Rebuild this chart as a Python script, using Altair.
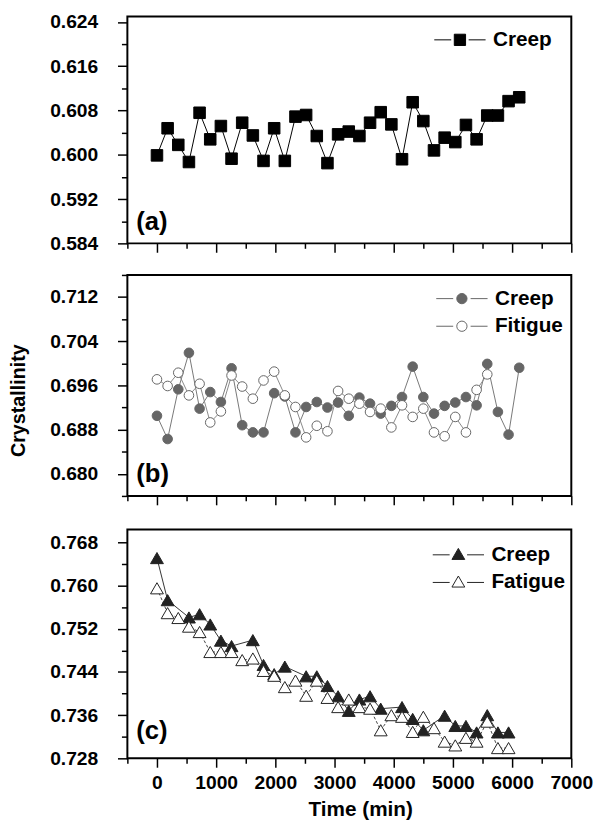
import altair as alt
import pandas as pd

FONT = "Liberation Sans"

# ---------------- data ----------------
a_time = [0, 180, 360, 540, 720, 900, 1080, 1260, 1440, 1620, 1800, 1980, 2160, 2340,
          2520, 2700, 2880, 3060, 3240, 3420, 3600, 3780, 3960, 4140, 4320, 4500, 4680,
          4860, 5040, 5220, 5400, 5580, 5760, 5940, 6120]
a_creep = [0.5999, 0.6048, 0.6018, 0.5987, 0.6076, 0.6028, 0.6052, 0.5993, 0.6058, 0.6035,
           0.5989, 0.6048, 0.5989, 0.6069, 0.6072, 0.6034, 0.5985, 0.6037, 0.6042, 0.6034,
           0.6058, 0.6077, 0.6055, 0.5992, 0.6095, 0.6061, 0.6008, 0.6031, 0.6023, 0.6054,
           0.6028, 0.6071, 0.6071, 0.6097, 0.6104]

b_creep_time = [0, 180, 360, 540, 720, 900, 1080, 1260, 1440, 1620, 1800, 1980, 2160, 2340,
                2520, 2700, 2880, 3060, 3240, 3420, 3600, 3780, 3960, 4140, 4320, 4500, 4680,
                4860, 5040, 5220, 5400, 5580, 5760, 5940, 6120]
b_creep = [0.6905, 0.6863, 0.6953, 0.7019, 0.6918, 0.6948, 0.6930, 0.6991, 0.6888, 0.6875,
           0.6875, 0.6946, 0.6940, 0.6875, 0.6921, 0.6930, 0.6920, 0.6929, 0.6905, 0.6938,
           0.6927, 0.6909, 0.6923, 0.6939, 0.6994, 0.6939, 0.6909, 0.6923, 0.6929, 0.6939,
           0.6924, 0.6999, 0.6912, 0.6871, 0.6992]
b_fatigue_time = [0, 180, 360, 540, 720, 900, 1080, 1260, 1440, 1620, 1800, 1980, 2160, 2340,
                  2520, 2700, 2880, 3060, 3240, 3420, 3600, 3780, 3960, 4140, 4320, 4500, 4680,
                  4860, 5040, 5220, 5400, 5580]
b_fatigue = [0.6971, 0.6959, 0.6983, 0.6942, 0.6963, 0.6893, 0.6913, 0.6978, 0.6958, 0.6936,
             0.6969, 0.6985, 0.6942, 0.6921, 0.6866, 0.6887, 0.6877, 0.6950, 0.6936, 0.6927,
             0.6912, 0.6918, 0.6884, 0.6924, 0.6903, 0.6918, 0.6875, 0.6868, 0.6903, 0.6875,
             0.6952, 0.6980]

c_creep_time = [0, 180, 540, 720, 900, 1080, 1260, 1620, 1800, 1980, 2160, 2520, 2700, 2880,
                3060, 3240, 3420, 3600, 3780, 4140, 4320, 4500, 4860, 5040, 5220, 5400, 5580,
                5760, 5940]
c_creep = [0.7651, 0.7573, 0.7541, 0.7547, 0.7528, 0.7498, 0.7488, 0.7499, 0.7453, 0.7436,
           0.7450, 0.7432, 0.7432, 0.7414, 0.7395, 0.7368, 0.7389, 0.7395, 0.7372, 0.7375,
           0.7353, 0.7332, 0.7359, 0.7340, 0.7340, 0.7328, 0.7360, 0.7328, 0.7328]
c_fatigue_time = [0, 180, 360, 540, 720, 900, 1080, 1260, 1440, 1620, 1800, 1980, 2160, 2340,
                  2520, 2700, 2880, 3060, 3240, 3420, 3600, 3780, 3960, 4140, 4320, 4500, 4680,
                  4860, 5040, 5220, 5400, 5580, 5760, 5940]
c_fatigue = [0.7595, 0.7549, 0.7540, 0.7524, 0.7514, 0.7477, 0.7477, 0.7477, 0.7462, 0.7465,
             0.7442, 0.7433, 0.7412, 0.7424, 0.7396, 0.7424, 0.7392, 0.7375, 0.7389, 0.7375,
             0.7372, 0.7332, 0.7360, 0.7357, 0.7329, 0.7357, 0.7336, 0.7311, 0.7304, 0.7318,
             0.7311, 0.7348, 0.7299, 0.7299]

x_major = [0, 1000, 2000, 3000, 4000, 5000, 6000, 7000]
x_minor = [-500, 500, 1500, 2500, 3500, 4500, 5500, 6500]
a_y_major = [0.584, 0.592, 0.600, 0.608, 0.616, 0.624]
a_y_minor = [0.588, 0.596, 0.604, 0.612, 0.620]
b_y_major = [0.680, 0.688, 0.696, 0.704, 0.712]
b_y_minor = [0.676, 0.684, 0.692, 0.700, 0.708, 0.716]
c_y_major = [0.728, 0.736, 0.744, 0.752, 0.760, 0.768]
c_y_minor = [0.732, 0.740, 0.748, 0.756, 0.764]

# legend glyphs: line - marker - line
SQUARE_SYM = "M-1,0L-0.34,0M0.34,0L1,0M-0.22,-0.22L0.22,-0.22L0.22,0.22L-0.22,0.22Z"
CIRCLE_SYM = "M-1,0L-0.34,0M0.34,0L1,0M0.2,0A0.2,0.2,0,1,1,-0.2,0A0.2,0.2,0,1,1,0.2,0Z"
TRI_SYM = "M-1,0L-0.34,0M0.34,0L1,0M0,-0.25L0.25,0.18L-0.25,0.18Z"

xscale = alt.Scale(domain=[-500, 7000], nice=False, zero=False)


def frame(field, series):
    rows = []
    for name, times, vals in series:
        rows.append(pd.DataFrame({field: name, "time": times, "value": vals}))
    return pd.concat(rows, ignore_index=True)


def panel(field, series, fills, strokes, line_specs, shape, size, sym, ydom, height,
          ymaj, ymin, label, label_dy, leg_x, leg_y, bottom_labels, ytitle_y=None):
    df = frame(field, series)
    order = [s[0] for s in series]
    yscale = alt.Scale(domain=ydom, nice=False, zero=False)
    layers = []
    for name, color, dash in line_specs:
        mk = dict(color=color, strokeWidth=1)
        if dash:
            mk["strokeDash"] = dash
        layers.append(
            alt.Chart(df).transform_filter(alt.datum[field] == name).mark_line(**mk).encode(
                x=alt.X("time:Q", scale=xscale, axis=None),
                y=alt.Y("value:Q", scale=yscale, axis=None),
                order="time:Q",
            )
        )
    xax = dict(values=x_major, tickSize=9, labels=bottom_labels, domain=False, grid=False,
               orient="bottom", labelFlush=False, labelOverlap=False, format="d")
    if bottom_labels:
        xax.update(title="Time (min)", titleFontSize=21, titlePadding=6, titleX=236)
    else:
        xax.update(title=None)
    yax = dict(values=ymaj, tickSize=10, format=".3f", domain=False, grid=False, orient="left",
               labelOverlap=False)
    if ytitle_y is not None:
        yax.update(title="Crystallinity", titleY=ytitle_y, titlePadding=21, titleFontSize=20)
    else:
        yax.update(title=None)
    leg = alt.Legend(title=None, orient="none", legendX=leg_x, legendY=leg_y, symbolType=sym,
                     symbolSize=2704, symbolStrokeWidth=1, clipHeight=24, rowPadding=4,
                     labelOffset=7, labelFontSize=21, labelFont=FONT, labelFontWeight="bold",
                     labelColor="black", padding=0, symbolOffset=0)
    pts = alt.Chart(df).mark_point(filled=True, shape=shape, size=size, opacity=1,
                                   strokeWidth=1).encode(
        x=alt.X("time:Q", scale=xscale, axis=alt.Axis(**xax)),
        y=alt.Y("value:Q", scale=yscale, axis=alt.Axis(**yax)),
        fill=alt.Fill(f"{field}:N", scale=alt.Scale(domain=order, range=fills), legend=leg),
        stroke=alt.Stroke(f"{field}:N", scale=alt.Scale(domain=order, range=strokes),
                          legend=leg),
    )
    minor = alt.Chart(df).mark_point(opacity=0).encode(
        x=alt.X("time:Q", scale=xscale,
                axis=alt.Axis(values=x_minor, tickSize=5, labels=False, domain=False,
                              grid=False, orient="bottom", title=None)),
        y=alt.Y("value:Q", scale=yscale,
                axis=alt.Axis(values=ymin, tickSize=6, labels=False, domain=False,
                              grid=False, orient="left", title=None)),
    )
    txt = alt.Chart(pd.DataFrame({"label": [label]})).mark_text(
        align="left", baseline="middle", fontSize=26, font=FONT, fontWeight="bold",
        color="black").encode(x=alt.value(9), y=alt.value(height - label_dy), text="label:N")
    return alt.layer(*layers, pts, minor, txt).resolve_axis(
        x="independent", y="independent").properties(width=450, height=height)


pa = panel("sa", [("Creep", a_time, a_creep)], ["#000000"], ["#000000"],
           [("Creep", "#000000", None)], "square", 137, SQUARE_SYM,
           [0.584, 0.625], 230, a_y_major, a_y_minor, "(a)", 22, 310.6, 11.7, False)

pb = panel("sb", [("Creep", b_creep_time, b_creep), ("Fitigue", b_fatigue_time, b_fatigue)],
           ["#666666", "#ffffff"], ["#666666", "#666666"],
           [("Creep", "#777777", None), ("Fitigue", "#888888", None)], "circle", 95, CIRCLE_SYM,
           [0.676, 0.716], 224, b_y_major, b_y_minor, "(b)", 22, 312.6, 12, False,
           ytitle_y=126.9)

pc = panel("sc", [("Creep", c_creep_time, c_creep), ("Fatigue", c_fatigue_time, c_fatigue)],
           ["#222222", "#ffffff"], ["#222222", "#222222"],
           [("Creep", "#333333", None), ("Fatigue", "#444444", [3, 2])], "triangle-up", 170,
           TRI_SYM, [0.728, 0.7704], 232, c_y_major, c_y_minor, "(c)", 28, 309, 13.7, True)

inner = alt.vconcat(pb, pc, spacing=34, bounds="flush").resolve_scale(
    fill="independent", stroke="independent").resolve_legend(
    fill="independent", stroke="independent")
chart = alt.vconcat(pa, inner, spacing=32, bounds="flush").resolve_scale(
    fill="independent", stroke="independent").resolve_legend(
    fill="independent", stroke="independent").properties(
    padding={"left": 0, "top": -3, "right": 0, "bottom": 0}
).configure_view(stroke="black", strokeWidth=2).configure_axis(
    labelFont=FONT, labelFontSize=19.5, labelFontWeight="bold", labelColor="black",
    tickColor="black", tickWidth=1.5, titleFont=FONT, titleFontWeight="bold",
    titleColor="black"
).configure_axisX(labelPadding=7).configure_axisY(labelPadding=20)

chart.save("out.html", embed_options={"renderer": "svg", "actions": False})
